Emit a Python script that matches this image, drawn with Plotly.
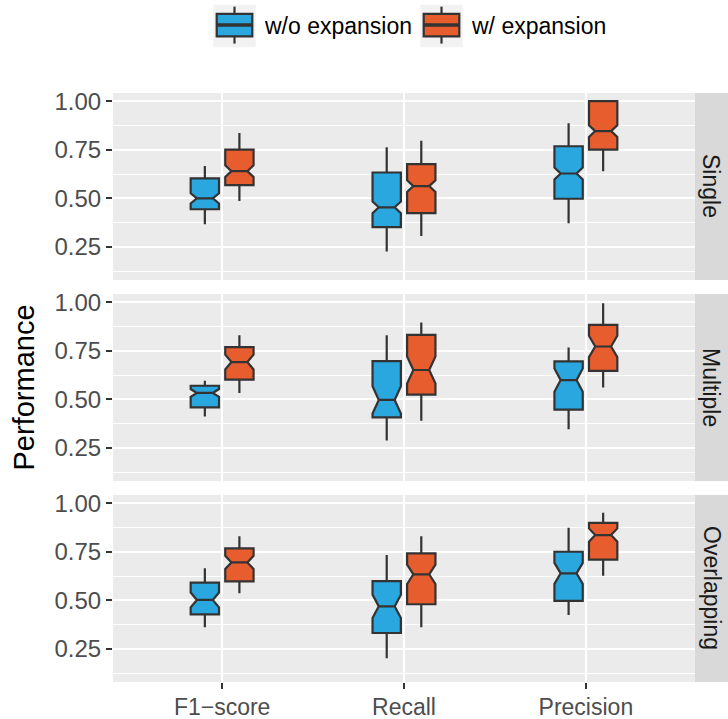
import plotly.graph_objects as go

# ---------------- data ----------------
metrics = ["F1−score", "Recall", "Precision"]
conditions = ["Single", "Multiple", "Overlapping"]
groups = ["w/o expansion", "w/ expansion"]
group_colors = ["#29A7DE", "#E85D2E"]

# per group: rows = conditions (Single, Multiple, Overlapping), cols = metrics
wo_lower = [[0.367, 0.227, 0.372], [0.412, 0.288, 0.346], [0.361, 0.202, 0.425]]
wo_q1 = [[0.444, 0.352, 0.498], [0.459, 0.407, 0.447], [0.428, 0.332, 0.497]]
wo_median = [[0.500, 0.454, 0.628], [0.533, 0.497, 0.599], [0.502, 0.469, 0.639]]
wo_q3 = [[0.603, 0.633, 0.768], [0.570, 0.697, 0.695], [0.591, 0.599, 0.750]]
wo_upper = [[0.666, 0.763, 0.887], [0.596, 0.830, 0.767], [0.665, 0.733, 0.873]]
wo_notch = [[0.026, 0.030, 0.031], [0.020, 0.070, 0.060], [0.038, 0.060, 0.054]]

w_lower = [[0.487, 0.306, 0.639], [0.533, 0.390, 0.561], [0.536, 0.361, 0.627]]
w_q1 = [[0.568, 0.424, 0.751], [0.601, 0.524, 0.646], [0.598, 0.480, 0.709]]
w_median = [[0.640, 0.563, 0.846], [0.692, 0.651, 0.772], [0.695, 0.634, 0.836]]
w_q3 = [[0.751, 0.676, 1.000], [0.769, 0.832, 0.883], [0.767, 0.742, 0.899]]
w_upper = [[0.836, 0.797, 1.000], [0.830, 0.895, 0.995], [0.830, 0.830, 0.950]]
w_notch = [[0.030, 0.030, 0.030], [0.038, 0.070, 0.055], [0.034, 0.050, 0.034]]

y_tickvals = [0.25, 0.50, 0.75, 1.00]
y_ticktext = ["0.25", "0.50", "0.75", "1.00"]
y_minor = [0.125, 0.375, 0.625, 0.875]

# ---------------- layout geometry (pixels) ----------------
W, H = 728, 719
L, R, T, B = 113, 695, 92.5, 682.5
PW, PH = R - L, B - T
FONT = "Liberation Sans, Arial, Helvetica, sans-serif"


def px_x(px):
    return (px - L) / PW


def px_y(py):
    return (B - py) / PH


gap = 14
panel_h = (PH - 2 * gap) / 3
domains = []
for i in range(3):
    top = T + i * (panel_h + gap)
    bot = top + panel_h
    domains.append([px_y(bot), px_y(top)])

fig = go.Figure()

stats = [
    (wo_lower, wo_q1, wo_median, wo_q3, wo_upper, wo_notch),
    (w_lower, w_q1, w_median, w_q3, w_upper, w_notch),
]

for r in range(3):
    axn = "" if r == 0 else str(r + 1)
    for g in range(2):
        lo, q1, md, q3, up, nt = stats[g]
        fig.add_trace(go.Box(
            x=metrics,
            lowerfence=lo[r], q1=q1[r], median=md[r], q3=q3[r], upperfence=up[r],
            notchspan=nt[r], notched=True, notchwidth=0.22,
            name=groups[g], legendgroup=groups[g], offsetgroup=str(g), showlegend=False,
            fillcolor=group_colors[g],
            line=dict(color="#333333", width=2.2),
            whiskerwidth=0, boxpoints=False,
            xaxis="x" + axn, yaxis="y" + axn,
            hoverinfo="skip",
        ))

layout = dict(
    width=W, height=H,
    margin=dict(l=L, r=W - R, t=T, b=H - B, pad=0, autoexpand=False),
    paper_bgcolor="white", plot_bgcolor="#EBEBEB",
    boxmode="group", boxgap=0.62, boxgroupgap=0.18,
    font=dict(family=FONT, size=24, color="#4D4D4D"),
    showlegend=False,
)

for r in range(3):
    axn = "" if r == 0 else str(r + 1)
    layout["xaxis" + axn] = dict(
        domain=[0, 1], anchor="y" + axn, type="category",
        categoryorder="array", categoryarray=metrics,
        range=[-0.6, 2.6], showgrid=True, gridcolor="white", gridwidth=2,
        zeroline=False, showline=False,
        showticklabels=(r == 2),
        ticks="outside" if r == 2 else "", ticklen=6, tickwidth=2, tickcolor="#333333",
        tickfont=dict(size=23, color="#4D4D4D"),
        ticklabelstandoff=-2,
    )
    layout["yaxis" + axn] = dict(
        domain=domains[r], anchor="x" + axn, range=[0.08, 1.042],
        tickvals=y_tickvals, ticktext=y_ticktext,
        showgrid=True, gridcolor="white", gridwidth=2, zeroline=False, showline=False,
        ticks="outside", ticklen=6, tickwidth=2, tickcolor="#333333",
        tickfont=dict(size=24, color="#4D4D4D"),
        minor=dict(tickvals=y_minor, showgrid=True, gridcolor="white", gridwidth=1, ticks=""),
    )

fig.update_layout(**layout)

shapes = []
annotations = []

# facet strips on the right
for r in range(3):
    d0, d1 = domains[r]
    shapes.append(dict(type="rect", xref="paper", yref="paper",
                       x0=1.0, x1=px_x(W), y0=d0, y1=d1,
                       fillcolor="#D9D9D9", line=dict(width=0), layer="below"))
    annotations.append(dict(text=conditions[r], xref="paper", yref="paper",
                            x=px_x((R + W) / 2), y=(d0 + d1) / 2, showarrow=False,
                            textangle=90, font=dict(size=23, color="#1A1A1A", family=FONT),
                            xanchor="center", yanchor="middle"))

# y axis title
annotations.append(dict(text="Performance", xref="paper", yref="paper",
                        x=px_x(23), y=0.5, showarrow=False, textangle=-90,
                        font=dict(size=29, color="black", family=FONT),
                        xanchor="center", yanchor="middle"))

# manual legend (ggplot style keys)
for g in range(2):
    dx = g * 207
    kx0, kx1 = 213.3 + dx, 255.7 + dx
    cx = (kx0 + kx1) / 2
    shapes.append(dict(type="rect", xref="paper", yref="paper",
                       x0=px_x(kx0), x1=px_x(kx1), y0=px_y(46.7), y1=px_y(4),
                       fillcolor="#F2F2F2", line=dict(width=0)))
    shapes.append(dict(type="line", xref="paper", yref="paper",
                       x0=px_x(cx), x1=px_x(cx), y0=px_y(43), y1=px_y(6),
                       line=dict(color="#333333", width=2.2)))
    shapes.append(dict(type="rect", xref="paper", yref="paper",
                       x0=px_x(kx0 + 3.4), x1=px_x(kx1 - 3.4), y0=px_y(35.7), y1=px_y(13.3),
                       fillcolor=group_colors[g], line=dict(color="#333333", width=2.2)))
    shapes.append(dict(type="line", xref="paper", yref="paper",
                       x0=px_x(kx0 + 3.4), x1=px_x(kx1 - 3.4), y0=px_y(24.5), y1=px_y(24.5),
                       line=dict(color="#333333", width=3.5)))
    annotations.append(dict(text=groups[g], xref="paper", yref="paper",
                            x=px_x(kx1 + 6), y=px_y(25.5), showarrow=False,
                            xanchor="left", yanchor="middle",
                            font=dict(size=23, color="black", family=FONT)))

fig.update_layout(shapes=shapes, annotations=annotations)

fig.write_html("out.html", config={"displayModeBar": False},
               post_script="document.body.style.margin='0';document.body.style.overflow='hidden';")
